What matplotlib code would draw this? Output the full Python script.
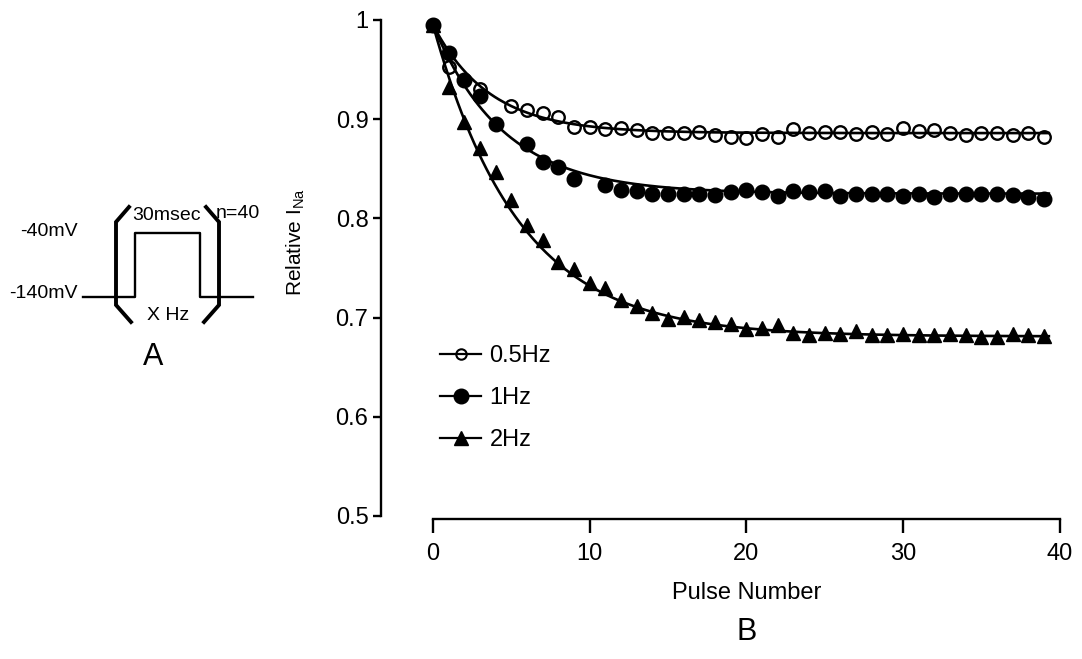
import numpy as np
import matplotlib
matplotlib.use("Agg")
import matplotlib.pyplot as plt
from matplotlib.lines import Line2D

plt.rcParams['font.family'] = ['Liberation Sans', 'DejaVu Sans']
plt.rcParams['mathtext.fontset'] = 'custom'
plt.rcParams['mathtext.rm'] = 'Liberation Sans'

# --- data ---
pulse = np.arange(40)
nan = np.nan
hz05 = [0.995, 0.953, nan, 0.930, nan, 0.913, 0.909, 0.906, 0.902, 0.892,
        0.892, 0.890, 0.891, 0.889, 0.886, 0.886, 0.886, 0.887, 0.884, 0.882,
        0.881, 0.885, 0.882, 0.890, 0.886, 0.887, 0.887, 0.885, 0.887, 0.885,
        0.891, 0.888, 0.889, 0.886, 0.884, 0.886, 0.886, 0.884, 0.886, 0.882]
hz1 = [0.995, 0.967, 0.940, 0.923, 0.895, nan, 0.875, 0.857, 0.852, 0.840,
       nan, 0.834, 0.829, 0.828, 0.825, 0.825, 0.825, 0.825, 0.824, 0.827,
       0.829, 0.827, 0.823, 0.828, 0.827, 0.828, 0.823, 0.825, 0.825, 0.825,
       0.823, 0.825, 0.822, 0.825, 0.825, 0.825, 0.825, 0.824, 0.822, 0.820]
hz2 = [0.995, 0.932, 0.897, 0.871, 0.847, 0.819, 0.793, 0.778, 0.756, 0.749,
       0.735, 0.730, 0.718, 0.712, 0.705, 0.699, 0.701, 0.698, 0.696, 0.694,
       0.689, 0.690, 0.693, 0.684, 0.682, 0.684, 0.683, 0.686, 0.682, 0.682,
       0.683, 0.682, 0.682, 0.683, 0.682, 0.680, 0.680, 0.683, 0.682, 0.681]
labels = ['0.5Hz', '1Hz', '2Hz']

# single-exponential fits drawn through the points (plateau, amplitude, tau)
fit_plateau = [0.886, 0.825, 0.681]
fit_amp = [0.109, 0.170, 0.314]
fit_tau = [3.6, 4.5, 5.5]

# pulse protocol for panel A
hold_mv = -140
step_mv = -40

fig = plt.figure(figsize=(10.82, 6.59), dpi=100)

# ---------------- panel B ----------------
ax = fig.add_axes([381/1082, 1 - 519/659, 689/1082, 504/659])
ax.set_xlim(-3.32, 40.65)
ax.set_ylim(1 - (519 - 20) / 992, 1 + 5 / 992)

xs = np.linspace(0, 39.3, 300)
for p, a, t in zip(fit_plateau, fit_amp, fit_tau):
    ax.plot(xs, p + a * np.exp(-xs / t), color='black', lw=1.9, zorder=2)

ax.plot(pulse, hz05, ls='none', marker='o', ms=9, mfc='none', mec='black',
        mew=1.7, clip_on=False, zorder=3)
ax.plot(pulse, hz1, ls='none', marker='o', ms=10.5, color='black',
        clip_on=False, zorder=4)
ax.plot(pulse, hz2, ls='none', marker='^', ms=10.5, color='black',
        clip_on=False, zorder=5)

handles = [
    Line2D([], [], color='black', lw=1.6, marker='o', ms=7.5, mfc='none', mew=1.5),
    Line2D([], [], color='black', lw=1.6, marker='o', ms=10.5),
    Line2D([], [], color='black', lw=1.6, marker='^', ms=10.5),
]
ax.legend(handles, labels, loc='upper left', bbox_to_anchor=(0.0856, 0.345),
          frameon=False, fontsize=17, handlelength=1.75, handletextpad=0.35,
          labelspacing=0.85, borderpad=0, borderaxespad=0, numpoints=1)

for s in ['top', 'right']:
    ax.spines[s].set_visible(False)
ax.spines['left'].set_bounds(0.5, 1.0)
ax.spines['bottom'].set_bounds(0, 40)
ax.spines['left'].set_linewidth(1.7)
ax.spines['bottom'].set_linewidth(1.7)

ax.set_yticks([0.5, 0.6, 0.7, 0.8, 0.9, 1.0])
ax.set_yticklabels(['0.5', '0.6', '0.7', '0.8', '0.9', '1'])
ax.set_xticks([0, 10, 20, 30, 40])
ax.tick_params(axis='y', length=6, width=1.7, pad=3, labelsize=17)
ax.tick_params(axis='x', length=10, width=1.7, pad=7, labelsize=17)

ax.set_xlabel('Pulse Number', fontsize=17)
ax.xaxis.set_label_coords(0.531, -0.125)
ax.set_ylabel(r'Relative I$_{\mathrm{Na}}$', fontsize=15)
ax.yaxis.set_label_coords(-0.108, 0.55)

fig.text(747/1082, 1 - 632/659, 'B', fontsize=22, ha='center', va='center')

# ---------------- panel A (protocol sketch) ----------------
sk = fig.add_axes([0, 0, 1, 1], zorder=-1)
sk.set_xlim(0, 1082)
sk.set_ylim(659, 0)
sk.axis('off')


def mv_to_px(mv):
    return 297 - (mv - hold_mv) * 0.64


yh = mv_to_px(hold_mv)
ys = mv_to_px(step_mv)
sk.plot([83, 135, 135, 200, 200, 253], [yh, yh, ys, ys, yh, yh],
        color='black', lw=1.7)
sk.plot([129, 116, 116, 131], [207, 222, 305, 322], color='black', lw=2.8,
        solid_joinstyle='miter')
sk.plot([206, 219, 219, 204], [207, 222, 305, 322], color='black', lw=2.8,
        solid_joinstyle='miter')

sk.text(78, ys - 2, '%dmV' % step_mv, fontsize=14, ha='right', va='center')
sk.text(78, yh - 3, '%dmV' % hold_mv, fontsize=14, ha='right', va='center')
sk.text(166, 215, '30msec', fontsize=14, ha='center', va='center')
sk.text(216, 214, 'n=40', fontsize=14, ha='left', va='center')
sk.text(168, 315, 'X Hz', fontsize=14, ha='center', va='center')
sk.text(153, 357, 'A', fontsize=22, ha='center', va='center')

fig.savefig('out.png', dpi=100)
